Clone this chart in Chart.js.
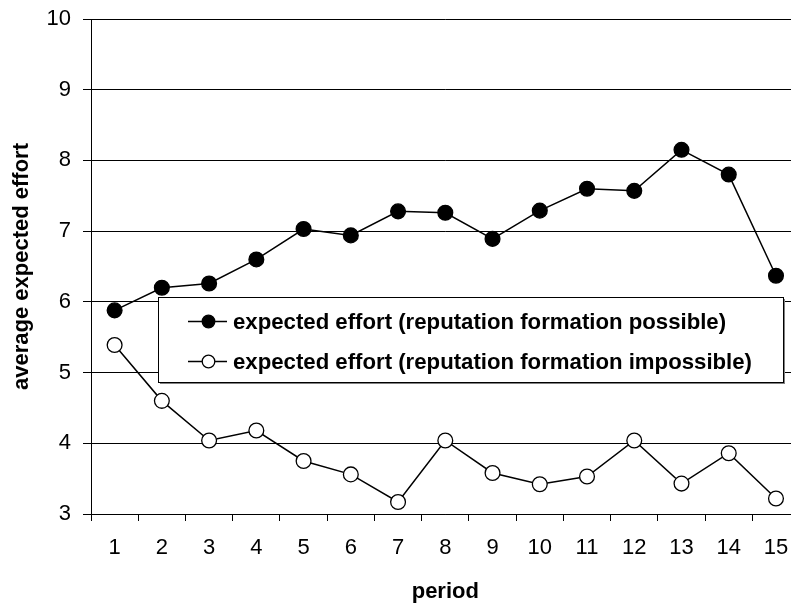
<!DOCTYPE html>
<html>
<head>
<meta charset="utf-8">
<script src="https://cdn.jsdelivr.net/npm/chart.js@4.4.1/dist/chart.umd.min.js"></script>
<style>
  html, body { margin: 0; padding: 0; background: #fff; overflow: hidden; width: 791px; height: 609px; }
  #wrap { position: absolute; left: 0; top: 0; width: 810px; height: 609px; }
</style>
</head>
<body>
<div id="wrap"><canvas id="c" width="810" height="609"></canvas></div>
<script>
// ---- data ----
const periods = ['1','2','3','4','5','6','7','8','9','10','11','12','13','14','15'];
const effortPossible   = [5.88, 6.20, 6.26, 6.60, 7.03, 6.94, 7.28, 7.26, 6.89, 7.29, 7.60, 7.57, 8.15, 7.80, 6.37];
const effortImpossible = [5.39, 4.60, 4.04, 4.18, 3.75, 3.56, 3.17, 4.04, 3.58, 3.42, 3.53, 4.04, 3.43, 3.86, 3.22];
const yTickValues = [3, 4, 5, 6, 7, 8, 9, 10];
const seriesNames = [
  'expected effort (reputation formation possible)',
  'expected effort (reputation formation impossible)'
];
const xTitle = 'period';
const yTitle = 'average expected effort';

const FAMILY = "Arial, 'Liberation Sans', Helvetica, sans-serif";

// legend drawn inside the plot area
const insideLegend = {
  id: 'insideLegend',
  afterDatasetsDraw(chart) {
    const ctx = chart.ctx;
    const box = { left: 158, top: 297, right: 783, bottom: 382 };
    ctx.save();
    ctx.fillStyle = '#808080';
    ctx.fillRect(box.left + 2, box.top + 2, box.right - box.left, box.bottom - box.top);
    ctx.fillStyle = '#ffffff';
    ctx.fillRect(box.left, box.top, box.right - box.left, box.bottom - box.top);
    ctx.strokeStyle = '#000';
    ctx.lineWidth = 1;
    ctx.strokeRect(box.left + 0.5, box.top + 0.5, box.right - box.left, box.bottom - box.top);
    const rows = [321.5, 361.5];
    chart.data.datasets.forEach((ds, i) => {
      const y = rows[i];
      ctx.beginPath();
      ctx.moveTo(188, y);
      ctx.lineTo(227, y);
      ctx.strokeStyle = '#000';
      ctx.lineWidth = 1.5;
      ctx.stroke();
      ctx.beginPath();
      ctx.arc(208.5, y, 6.3, 0, Math.PI * 2);
      ctx.fillStyle = ds.pointBackgroundColor;
      ctx.fill();
      ctx.lineWidth = 1.3;
      ctx.stroke();
      ctx.fillStyle = '#000';
      ctx.font = 'bold 22.2px ' + FAMILY;
      ctx.textBaseline = 'middle';
      ctx.textAlign = 'left';
      ctx.fillText(ds.label, 233, y + 1);
    });
    ctx.restore();
  }
};

new Chart(document.getElementById('c'), {
  type: 'line',
  data: {
    labels: periods,
    datasets: [
      {
        label: seriesNames[0],
        data: effortPossible,
        borderColor: '#000',
        borderWidth: 1.5,
        pointRadius: 7.4,
        pointBorderWidth: 1.3,
        pointBackgroundColor: '#000',
        pointBorderColor: '#000',
        tension: 0
      },
      {
        label: seriesNames[1],
        data: effortImpossible,
        borderColor: '#000',
        borderWidth: 1.5,
        pointRadius: 7.4,
        pointBorderWidth: 1.3,
        pointBackgroundColor: '#fff',
        pointBorderColor: '#000',
        tension: 0
      }
    ]
  },
  options: {
    responsive: false,
    animation: false,
    devicePixelRatio: 1,
    layout: { padding: { left: 0, right: 10.4, top: 19, bottom: 0 } },
    plugins: { legend: { display: false }, tooltip: { enabled: false } },
    scales: {
      x: {
        type: 'category',
        offset: true,
        grid: { offset: true, drawOnChartArea: false, drawTicks: true, tickLength: 7, color: '#000', lineWidth: 1 },
        border: { color: '#000', width: 1 },
        ticks: { color: '#000', font: { family: FAMILY, size: 22 }, padding: 14, maxRotation: 0, autoSkip: false },
        title: { display: true, text: xTitle, color: '#000', font: { family: FAMILY, size: 22, weight: 'bold' }, padding: { top: 0, bottom: 4 } },
        afterFit(s) { s.height = 95; s.paddingLeft = 0; s.paddingRight = 0; }
      },
      y: {
        min: 3,
        max: 10,
        afterBuildTicks(s) { s.ticks = yTickValues.map(v => ({ value: v })); },
        grid: { color: '#000', lineWidth: 1, drawTicks: true, tickLength: 8 },
        border: { color: '#000', width: 1 },
        ticks: { color: '#000', font: { family: FAMILY, size: 22 }, padding: 12 },
        title: { display: true, text: yTitle, color: '#000', font: { family: FAMILY, size: 22, weight: 'bold' }, padding: { top: 9, bottom: 0 } },
        afterFit(s) { s.width = 91; s.paddingTop = 0; s.paddingBottom = 0; }
      }
    }
  },
  plugins: [insideLegend]
});
</script>
</body>
</html>
